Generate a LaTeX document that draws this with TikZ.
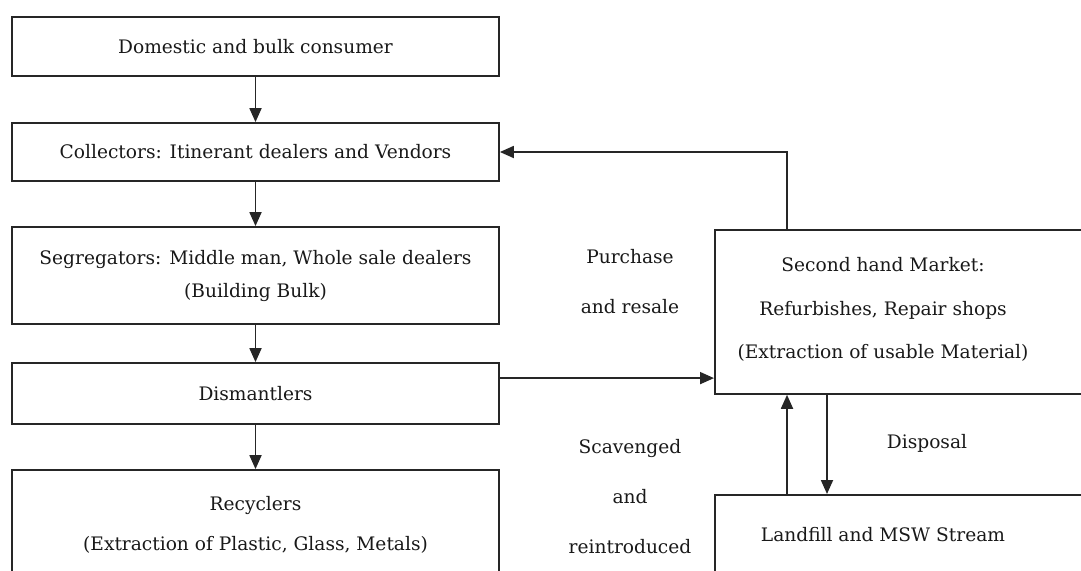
\documentclass[tikz,border=0pt]{standalone}
\usepackage{fontspec}
\setmainfont{DejaVu Serif}
\usetikzlibrary{arrows.meta,calc}
\begin{document}
\begin{tikzpicture}[x=1pt,y=-1pt,
  every node/.style={font=\fontsize{18.6pt}{23pt}\selectfont, text=black!90},
  box/.style={draw=black!85, line width=1.8pt, rectangle, inner sep=0pt},
  lbl/.style={align=center, inner sep=0pt},
  arr/.style={draw=black!85, line width=1.8pt, -{Triangle[length=14pt,width=12pt]}}]
\useasboundingbox (0,0) rectangle (1081,570);
\clip (0,0) rectangle (1081,570);
\fill[white] (0,0) rectangle (1081,570);
% left column
\node[box, minimum width=487pt, minimum height=59pt] (b1) at (255.5,46.5) {Domestic and bulk consumer};
\node[box, minimum width=487pt, minimum height=58pt] (b2) at (255.5,152) {Collectors: Itinerant dealers and Vendors};
\node[box, minimum width=487pt, minimum height=97pt, align=center] (b3) at (255.5,275.5) {Segregators: Middle man, Whole sale dealers\\[10pt](Building Bulk)};
\node[box, minimum width=487pt, minimum height=61pt] (b4) at (255.5,393.5) {Dismantlers};
\node[box, minimum width=487pt, minimum height=110pt, align=center] (b5) at (255.5,525) {Recyclers\\[17pt](Extraction of Plastic, Glass, Metals)};
% right column
\node[box, anchor=north west, minimum width=380pt, minimum height=164pt] (sh) at (714,229) {};
\node[lbl] (sht) at (883,309.5) {Second hand Market:\\[20.5pt]Refurbishes, Repair shops\\[20.5pt](Extraction of usable Material)};
\node[box, anchor=north west, minimum width=380pt, minimum height=90pt] (lf) at (714,494) {};
\node[lbl] (lft) at (883,535) {Landfill and MSW Stream};
% labels
\node[lbl] (pr) at (630,282) {Purchase\\[27pt]and resale};
\node[lbl] (sc) at (630,497) {Scavenged\\[27pt]and\\[27pt]reintroduced};
\node[lbl] (dp) at (927,443) {Disposal};
% connectors
\draw[arr] (b1.south) -- (b2.north);
\draw[arr] (b2.south) -- (b3.north);
\draw[arr] (b3.south) -- (b4.north);
\draw[arr] (b4.south) -- (b5.north);
\coordinate (shtop) at ($(sh.north west)+(73,0)$);
\draw[arr] (shtop) |- (b2.east);
\coordinate (b4out) at ($(b4.north east)+(0,16)$);
\draw[arr] (b4out) -- (b4out -| sh.west);
\coordinate (lfup) at ($(lf.north west)+(73,0)$);
\draw[arr] (lfup) -- (lfup |- sh.south);
\coordinate (shdn) at ($(sh.south west)+(113,0)$);
\draw[arr] (shdn) -- (shdn |- lf.north);
\end{tikzpicture}
\end{document}
